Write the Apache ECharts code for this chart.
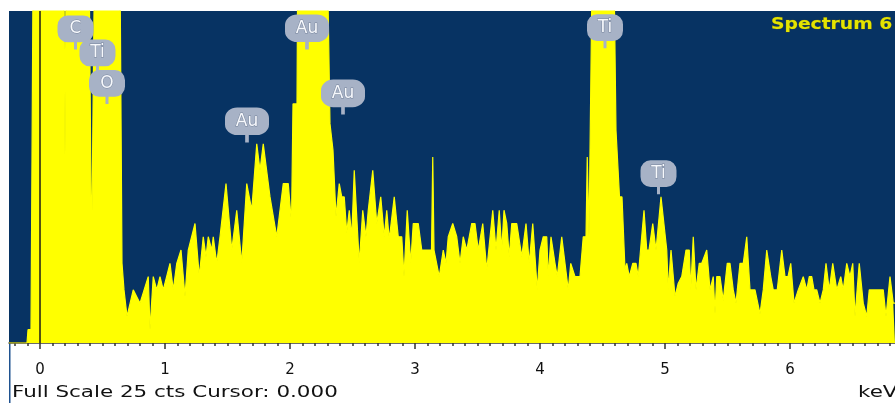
<!DOCTYPE html>
<html>
<head>
<meta charset="utf-8">
<title>Spectrum 6</title>
<script src="https://cdn.jsdelivr.net/npm/echarts@6/dist/echarts.min.js"></script>
<style>
  html, body { margin: 0; padding: 0; background: #ffffff; }
  #chart { width: 895px; height: 403px; }
</style>
</head>
<body>
<div id="chart"></div>
<script>
// EDS spectrum: energy (keV) and counts, read channel by channel at the peaks and dips.
// Counts above full scale (25) are clipped by the plot area.
const energy = [
  -0.248, -0.104, -0.096, -0.072, -0.048, 0.184, 0.200, 0.216, 0.384, 0.412,
  0.448, 0.632, 0.656, 0.672, 0.696, 0.746, 0.800, 0.866, 0.880, 0.906,
  0.934, 0.960, 0.986, 1.040, 1.066, 1.094, 1.128, 1.160, 1.186, 1.240,
  1.274, 1.306, 1.328, 1.346, 1.374, 1.386, 1.414, 1.440, 1.488, 1.534,
  1.574, 1.614, 1.654, 1.694, 1.734, 1.760, 1.786, 1.840, 1.894, 1.946,
  1.986, 2.012, 2.024, 2.056, 2.068, 2.280, 2.320, 2.344, 2.368, 2.394,
  2.414, 2.434, 2.454, 2.474, 2.494, 2.514, 2.554, 2.582, 2.608, 2.626,
  2.662, 2.694, 2.726, 2.754, 2.774, 2.794, 2.834, 2.866, 2.894, 2.912,
  2.938, 2.966, 2.986, 3.026, 3.054, 3.106, 3.132, 3.142, 3.152, 3.194,
  3.226, 3.248, 3.266, 3.302, 3.334, 3.360, 3.386, 3.414, 3.454, 3.480,
  3.506, 3.542, 3.574, 3.622, 3.648, 3.674, 3.694, 3.712, 3.734, 3.754,
  3.774, 3.814, 3.854, 3.888, 3.914, 3.942, 3.978, 4.000, 4.026, 4.054,
  4.066, 4.088, 4.120, 4.138, 4.174, 4.200, 4.226, 4.246, 4.280, 4.320,
  4.346, 4.368, 4.378, 4.392, 4.408, 4.432, 4.576, 4.608, 4.636, 4.656,
  4.680, 4.694, 4.714, 4.742, 4.768, 4.786, 4.832, 4.854, 4.872, 4.902,
  4.928, 4.968, 5.014, 5.026, 5.048, 5.080, 5.106, 5.134, 5.168, 5.194,
  5.206, 5.226, 5.248, 5.274, 5.294, 5.334, 5.360, 5.386, 5.400, 5.414,
  5.440, 5.466, 5.498, 5.520, 5.546, 5.568, 5.600, 5.626, 5.654, 5.680,
  5.720, 5.760, 5.786, 5.814, 5.846, 5.866, 5.898, 5.934, 5.960, 5.984,
  6.006, 6.032, 6.066, 6.106, 6.134, 6.154, 6.174, 6.192, 6.214, 6.240,
  6.266, 6.288, 6.314, 6.342, 6.374, 6.406, 6.426, 6.454, 6.480, 6.502,
  6.520, 6.554, 6.586, 6.614, 6.634, 6.746, 6.768, 6.800, 6.826, 6.840
];
const counts = [
  0, 0, 1, 1, 40, 40, 14, 40, 40, 6,
  40, 40, 6, 4, 2, 4, 3, 5, 1, 5,
  4, 5, 4, 6, 4, 6, 7, 3.5, 7, 9,
  5, 8, 6.5, 8, 7, 8, 6, 8, 12, 7,
  10, 6, 12, 10, 15, 13, 15, 11, 8, 12,
  12, 9, 18, 18, 40, 40, 16.5, 14.5, 9.5, 12,
  11, 11, 8.3, 10, 8, 13, 6, 10, 8, 10,
  13, 9, 11, 8, 10, 7.8, 11, 8, 8, 5,
  10, 6, 9, 9, 7, 7, 7, 14, 7, 5,
  7, 6, 8, 9, 8, 6, 8, 7, 9, 9,
  7, 9, 5.5, 10, 7, 10, 7, 10, 9, 6.5,
  9, 9, 6.5, 9, 6, 9, 4, 7, 8, 8,
  5, 8, 6, 5, 8, 6, 4, 6, 5, 5,
  8, 8, 14, 8, 8, 40, 40, 16, 11, 11,
  5.5, 6, 5, 6, 6, 5, 10, 7, 7, 9,
  7, 11, 7, 4, 7, 3.5, 4.5, 5, 7, 7,
  4, 8, 4, 6, 6, 7, 4, 5, 2.2, 5,
  5, 3.2, 6, 6, 4, 3, 6, 6, 8, 4,
  4, 2.2, 4, 7, 5, 4, 4, 7, 5, 5,
  6, 3, 4, 5, 4, 5, 5, 4, 4, 3,
  4, 6, 4, 6, 4, 5, 4, 6, 5, 6,
  2, 6, 3, 2, 4, 4, 2, 5, 3, 3
];

// Element markers: name, energy (keV) and height (counts) of the marker's pointer tip
const elementNames = ['C', 'Ti', 'O', 'Au', 'Au', 'Au', 'Ti', 'Ti'];
const elementEnergy = [0.284, 0.460, 0.536, 1.656, 2.136, 2.424, 4.520, 4.948];
const elementTip = [22.1, 20.3, 18.0, 15.1, 22.1, 17.2, 22.2, 11.2];

// Axis tick labels (keV)
const majorTicks = [0, 1, 2, 3, 4, 5, 6];

const fullScale = 25;
const xMin = -0.248;
const xMax = 6.84;

const minorTicks = [];
for (let i = -2; i <= 68; i++) {
  if (i % 10 !== 0) minorTicks.push(+(i / 10).toFixed(1));
}

const NAVY = '#073363';
const YELLOW = '#ffff00';
const FONT = '"DejaVu Sans", Verdana, sans-serif';

// speech-bubble marker: rounded body with a short pointer underneath
const bubblePath = 'path://M10,0 H26 A10,10 0 0 1 36,10 V16 A10,10 0 0 1 26,26 H19.5 V33 H16.5 V26 H10 A10,10 0 0 1 0,16 V10 A10,10 0 0 1 10,0 Z';

const markers = elementNames.map((name, i) => ({
  name: name,
  coord: [elementEnergy[i], elementTip[i]],
  symbolSize: name === 'Au' ? [44, 35] : [36, 34]
}));

const spectrum = energy.map((e, i) => [e, counts[i]]);

const chart = echarts.init(document.getElementById('chart'), null, { renderer: 'canvas' });

chart.setOption({
  animation: false,
  backgroundColor: '#ffffff',
  grid: {
    left: 9, right: 0, top: 11, bottom: 60,
    show: true, backgroundColor: NAVY, borderWidth: 0
  },
  xAxis: [
    {
      type: 'value', min: xMin, max: xMax,
      position: 'bottom',
      axisLine: { show: true, lineStyle: { color: '#3a3a3a', width: 1.5 } },
      axisTick: { show: true, customValues: majorTicks, length: 6, lineStyle: { color: '#333', width: 1.5 } },
      axisLabel: {
        show: true, customValues: majorTicks, margin: 20,
        color: '#111', fontSize: 15, fontFamily: FONT
      },
      splitLine: { show: false }
    },
    {
      type: 'value', min: xMin, max: xMax,
      position: 'bottom',
      axisLine: { show: false },
      axisTick: { show: true, customValues: minorTicks, length: 3, lineStyle: { color: '#333', width: 1.5 } },
      axisLabel: { show: false },
      splitLine: { show: false }
    }
  ],
  yAxis: {
    type: 'value', min: 0, max: fullScale,
    show: false, splitLine: { show: false }
  },
  series: [
    {
      type: 'line',
      xAxisIndex: 0,
      data: spectrum,
      showSymbol: false,
      clip: true,
      lineStyle: { color: YELLOW, width: 1.2 },
      areaStyle: { color: YELLOW, opacity: 1 },
      markLine: {
        silent: true,
        symbol: 'none',
        label: { show: false },
        lineStyle: { color: '#1a1a1a', width: 1.5, type: 'solid' },
        data: [{ xAxis: 0 }]
      },
      markPoint: {
        silent: true,
        symbol: bubblePath,
        symbolOffset: [0, '-50%'],
        itemStyle: { color: '#a7b2c6' },
        label: {
          show: true,
          formatter: '{b}',
          color: '#f6f8fc',
          fontSize: 17,
          fontFamily: FONT,
          offset: [0, -3.5],
          textBorderColor: 'rgba(90,105,130,0.6)',
          textBorderWidth: 1
        },
        data: markers
      }
    }
  ],
  graphic: [
    {
      type: 'text', x: 771, y: 17, scaleX: 1.17, silent: true,
      style: {
        text: 'Spectrum 6', fill: '#e4e400', font: 'bold 16px ' + FONT,
        stroke: '#5a5a20', lineWidth: 0.6
      }
    },
    {
      type: 'text', x: 12, y: 385, scaleX: 1.34, silent: true,
      style: { text: 'Full Scale 25 cts Cursor: 0.000', fill: '#111', font: '16px ' + FONT }
    },
    {
      type: 'text', x: 858, y: 385, scaleX: 1.34, silent: true,
      style: { text: 'keV', fill: '#111', font: '16px ' + FONT }
    },
    {
      type: 'rect', silent: true,
      shape: { x: 9, y: 343, width: 1.5, height: 60 },
      style: { fill: '#1f5290' }
    }
  ]
});
</script>
</body>
</html>
